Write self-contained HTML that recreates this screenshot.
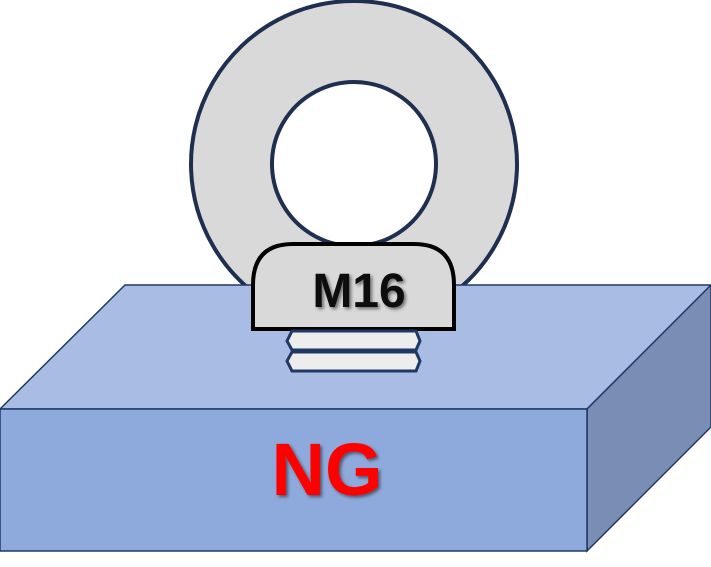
<!DOCTYPE html>
<html><head><style>body{margin:0;background:#fff}svg{display:block}</style></head><body>
<svg width="711" height="567" viewBox="0 0 711 567" xmlns="http://www.w3.org/2000/svg">
<defs><filter id="sh"><feDropShadow dx="2" dy="2" stdDeviation="1.5" flood-color="#000" flood-opacity="0.5"/></filter></defs>
<path d="M354,1 a163,163 0 1,0 0.01,0 Z M354,82 a82,82 0 1,1 -0.01,0 Z" fill="#d9d9d9" fill-rule="evenodd" stroke="#1f2f50" stroke-width="4"/>
<polygon points="125,285 711,285 587,409 0,409" fill="#a9bce3" stroke="#1f3864" stroke-width="1.5"/>
<polygon points="587,409 711,285 711,427 587,551" fill="#7a8eb5" stroke="#1f3864" stroke-width="1.5"/>
<rect x="0" y="409" width="587" height="142" fill="#8eaadc" stroke="#1f3864" stroke-width="1.5"/>
<path d="M253,329 L253,285 Q253,244 293,244 L414,244 Q454,244 454,285 L454,329 Z" fill="#d9d9d9" stroke="#000" stroke-width="4"/>
<polygon points="292,331 416,331 420,341 416,350 292,350 287,341" fill="#ededed" stroke="#1f3864" stroke-width="3"/>
<polygon points="292,352 416,352 420,361 416,371 292,371 287,361" fill="#ededed" stroke="#1f3864" stroke-width="3"/>
<text x="359" y="307" text-anchor="middle" font-family="Liberation Sans, sans-serif" font-weight="bold" font-size="48" fill="#111" filter="url(#sh)">M16</text>
<text x="327" y="495" text-anchor="middle" font-family="Liberation Sans, sans-serif" font-weight="bold" font-size="74" fill="#ff0000" filter="url(#sh)">NG</text>
</svg>
</body></html>
